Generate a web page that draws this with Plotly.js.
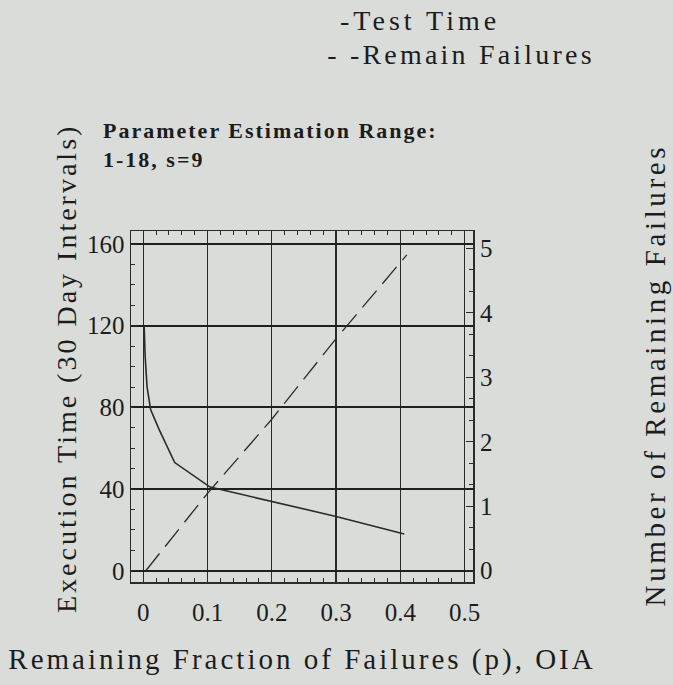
<!DOCTYPE html>
<html>
<head>
<meta charset="utf-8">
<script src="https://cdn.plot.ly/plotly-3.0.1.min.js"></script>
<style>
  html, body { margin: 0; padding: 0; background: #dadcda; }
  #chart { width: 673px; height: 685px; }
  .annotation-text { letter-spacing: 3px; }
  .annotation[data-index="0"] .annotation-text { letter-spacing: 4px; }
  .annotation[data-index="1"] .annotation-text { letter-spacing: 3.2px; }
  .annotation[data-index="2"] .annotation-text { letter-spacing: 2px; }
  .annotation[data-index="4"] .annotation-text { letter-spacing: 3.6px; }
  .xtitle { letter-spacing: 3px; }
</style>
</head>
<body>
<div id="chart"></div>
<script>
// Test time curve (left axis): remaining fraction p vs execution time
const pTime = [0.0015, 0.003, 0.006, 0.0115, 0.025, 0.049, 0.104, 0.2, 0.3, 0.406];
const testTime = [120, 105, 90, 79, 69, 53, 41, 34, 26.6, 18];

// Remaining failures (right axis)
const pFail = [0.004, 0.1, 0.2, 0.3, 0.41];
const remainFailures = [0, 1.2, 2.35, 3.6, 4.9];

const xTicks = [0, 0.1, 0.2, 0.3, 0.4, 0.5];
const xTickText = ['0', '0.1', '0.2', '0.3', '0.4', '0.5'];
const yTicks = [0, 40, 80, 120, 160];
const y2Ticks = [0, 1, 2, 3, 4, 5];

const serif = 'Liberation Serif, Times New Roman, serif';
const ink = '#1c1c1c';

const traces = [
  {
    x: pTime, y: testTime, type: 'scatter', mode: 'lines',
    name: 'Test Time', line: {color: '#2a2a2a', width: 1.6},
    xaxis: 'x', yaxis: 'y', showlegend: false
  },
  {
    x: pFail, y: remainFailures, type: 'scatter', mode: 'lines',
    name: 'Remain Failures', line: {color: '#2a2a2a', width: 1.3, dash: '22px,9px'},
    xaxis: 'x', yaxis: 'y2', showlegend: false
  }
];

const layout = {
  width: 673, height: 685,
  paper_bgcolor: '#dadcda', plot_bgcolor: '#dadcda',
  margin: {l: 131, r: 200, t: 231, b: 103},
  font: {family: serif, color: ink, size: 24},
  showlegend: false,
  xaxis: {
    range: [-0.019, 0.513],
    tickvals: xTicks, ticktext: xTickText,
    showgrid: true, gridcolor: '#2b2b2b', gridwidth: 1.4,
    zeroline: false,
    showline: true, linecolor: '#2b2b2b', linewidth: 1.5, mirror: 'allticks',
    ticks: 'inside', ticklen: 0, tickcolor: '#2b2b2b',
    minor: {dtick: 0.02, tick0: 0, ticks: 'inside', ticklen: 4, tickcolor: '#2b2b2b', showgrid: false},
    tickfont: {family: serif, size: 25, color: ink},
    ticklabelstandoff: 7,
    title: {text: 'Remaining Fraction of Failures (p), OIA', font: {family: serif, size: 29, color: ink}, standoff: 24}
  },
  yaxis: {
    range: [-5.5, 166.4],
    tickvals: yTicks,
    showgrid: true, gridcolor: '#1f1f1f', gridwidth: 2,
    zeroline: false,
    showline: true, linecolor: '#2b2b2b', linewidth: 1.5, mirror: true,
    ticks: 'inside', ticklen: 0,
    minor: {dtick: 10, tick0: 0, ticks: 'inside', ticklen: 4, tickcolor: '#2b2b2b', showgrid: false},
    tickfont: {family: serif, size: 25, color: ink},
    ticklabelstandoff: 0
  },
  yaxis2: {
    overlaying: 'y', side: 'right',
    range: [-0.175, 5.27],
    tickvals: y2Ticks,
    showgrid: false, zeroline: false,
    showline: false,
    ticks: 'inside', ticklen: 7, tickcolor: '#2b2b2b',
    minor: {dtick: 1/3, tick0: 0, ticks: 'inside', ticklen: 4, tickcolor: '#2b2b2b', showgrid: false},
    tickfont: {family: serif, size: 25, color: ink},
    ticklabelstandoff: 6
  },
  annotations: [
    {
      text: '-Test Time', xref: 'paper', yref: 'paper',
      x: (343 - 131) / 342, y: (582 - 21) / 351, xanchor: 'left', yanchor: 'middle',
      showarrow: false, font: {family: serif, size: 28, color: ink}
    },
    {
      text: '- -Remain Failures', xref: 'paper', yref: 'paper',
      x: (327 - 131) / 342, y: (582 - 54) / 351, xanchor: 'left', yanchor: 'middle',
      showarrow: false, font: {family: serif, size: 28, color: ink}
    },
    {
      text: '<b>Parameter Estimation Range:</b><br><b>1-18, s=9</b>', xref: 'paper', yref: 'paper',
      x: (101 - 131) / 342, y: (582 - 145) / 351, xanchor: 'left', yanchor: 'middle', align: 'left',
      showarrow: false, font: {family: serif, size: 22, color: ink}
    },
    {
      text: 'Execution Time (30 Day Intervals)', xref: 'paper', yref: 'paper',
      x: (66 - 131) / 342, y: (582 - 369) / 351, xanchor: 'center', yanchor: 'middle',
      textangle: -90, showarrow: false, font: {family: serif, size: 28, color: ink}
    },
    {
      text: 'Number of Remaining Failures', xref: 'paper', yref: 'paper',
      x: (655 - 131) / 342, y: (582 - 375) / 351, xanchor: 'center', yanchor: 'middle',
      textangle: -90, showarrow: false, font: {family: serif, size: 29, color: ink}
    }
  ]
};

Plotly.newPlot('chart', traces, layout, {displayModeBar: false, staticPlot: true});
</script>
</body>
</html>
